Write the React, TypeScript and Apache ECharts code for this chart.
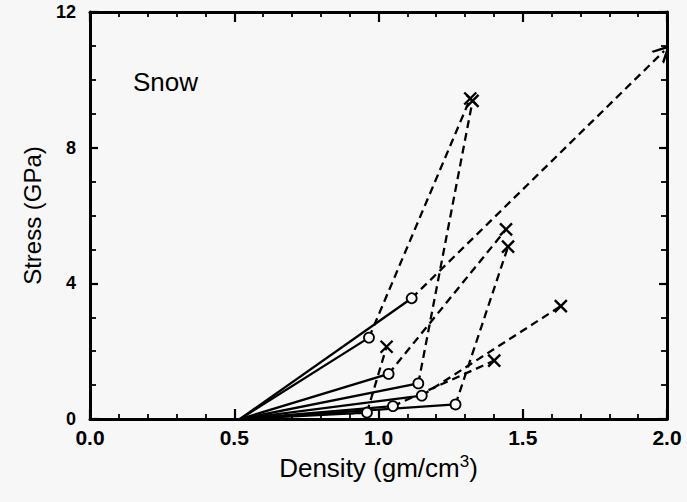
import React, { useEffect, useRef } from "react";
import * as echarts from "echarts";

// Initial (unshocked) state of the snow
const origin: [number, number] = [0.52, 0];
// Measured shocked states ("o")
const shockDensity = [0.967, 1.115, 1.035, 1.138, 1.15, 1.05, 1.267, 0.96];
const shockStress = [2.4, 3.56, 1.33, 1.05, 0.69, 0.38, 0.43, 0.19];
// Computed states ("x"), paired with the shocked states above; index 1 is off scale (arrow)
const calcDensity = [1.318, 1.99, 1.442, 1.326, 1.632, 1.401, 1.449, 1.028];
const calcStress = [9.45, 10.85, 5.59, 9.38, 3.33, 1.72, 5.08, 2.13];
const offScaleIndex = 1;
// faint low-stress dashed trace near the baseline
const lowDensity = [0.68, 0.95];
const lowStress = [0.1, 0.17];

const xMin = 0, xMax = 2, xStep = 0.5;
const yMin = 0, yMax = 12, yStep = 4;

const FONT = "Liberation Sans, Arial, sans-serif";
const INK = "#000";
const BG = "#f7f7f7";

export default function App() {
  const ref = useRef<HTMLDivElement>(null);
  useEffect(() => {
    if (!ref.current) return;
    const chart = echarts.init(ref.current, null, { renderer: "svg" });
    const series: any[] = [];
    shockDensity.forEach((d, i) => {
      series.push({
        type: "line",
        data: [origin, [d, shockStress[i]]],
        showSymbol: false,
        symbol: "none",
        lineStyle: { color: INK, width: 2.3 },
        z: 2,
      });
      if (i !== offScaleIndex) {
        series.push({
          type: "line",
          data: [[d, shockStress[i]], [calcDensity[i], calcStress[i]]],
          showSymbol: false,
          symbol: "none",
          lineStyle: { color: INK, width: 2.3, type: [8, 5] },
          z: 2,
        });
      }
    });
    series.push({
      type: "line",
      data: lowDensity.map((d, i) => [d, lowStress[i]]),
      showSymbol: false,
      symbol: "none",
      lineStyle: { color: INK, width: 1.6, type: [5, 4] },
      z: 2,
    });
    series.push({
      type: "lines",
      coordinateSystem: "cartesian2d",
      data: [
        {
          coords: [
            [shockDensity[offScaleIndex], shockStress[offScaleIndex]],
            [calcDensity[offScaleIndex], calcStress[offScaleIndex]],
          ],
        },
      ],
      symbol: ["none", "path://M5,0 L10,12 L8.5,12 L5,3.8 L1.5,12 L0,12 Z"],
      symbolSize: [14, 18],
      lineStyle: { color: INK, width: 2.3, type: [8, 5], opacity: 1 },
      z: 2,
    });
    series.push({
      type: "scatter",
      data: shockDensity.map((d, i) => [d, shockStress[i]]),
      symbol: "circle",
      symbolSize: 10,
      itemStyle: { color: BG, borderColor: INK, borderWidth: 1.8, opacity: 1 },
      z: 3,
    });
    series.push({
      type: "scatter",
      data: calcDensity
        .map((d, i) => [d, calcStress[i]])
        .filter((_, i) => i !== offScaleIndex),
      symbol: "path://M0,0L10,10M10,0L0,10",
      symbolSize: 12,
      itemStyle: { color: "rgba(0,0,0,0)", borderColor: INK, borderWidth: 2.4, opacity: 1 },
      z: 3,
    });

    const xCommon = {
      type: "value",
      min: xMin,
      max: xMax,
      interval: xStep,
      splitLine: { show: false },
      axisLine: { show: true, onZero: false, lineStyle: { color: INK, width: 3 } },
      axisTick: { show: true, inside: true, length: 10, lineStyle: { color: INK, width: 2.2 } },
      minorTick: { show: true, splitNumber: 5, length: 5, lineStyle: { color: INK, width: 1.8 } },
    };
    const yCommon = {
      type: "value",
      min: yMin,
      max: yMax,
      interval: yStep,
      splitLine: { show: false },
      axisLine: { show: true, onZero: false, lineStyle: { color: INK, width: 3 } },
      axisTick: { show: true, inside: true, length: 8, lineStyle: { color: INK, width: 2.2 } },
      minorTick: { show: true, splitNumber: 4, length: 6, lineStyle: { color: INK, width: 1.8 } },
    };

    chart.setOption({
      animation: false,
      backgroundColor: BG,
      title: {
        text: "Snow",
        left: 128,
        top: 64,
        textStyle: { fontFamily: FONT, fontSize: 26, fontWeight: "normal", color: INK },
      },
      grid: { left: 90, right: 20, top: 12, bottom: 83, containLabel: false },
      xAxis: [
        {
          ...xCommon,
          position: "bottom",
          axisLabel: {
            formatter: (v: number) => v.toFixed(1),
            fontFamily: FONT,
            fontSize: 21,
            fontWeight: "bold",
            color: INK,
            margin: 8,
          },
          name: "{a|Density (gm/cm}{s|3}{a|)}",
          nameLocation: "middle",
          nameGap: 34,
          nameTextStyle: {
            color: INK,
            rich: {
              a: { fontFamily: FONT, fontSize: 26, color: INK, lineHeight: 30 },
              s: { fontFamily: FONT, fontSize: 17, color: INK, verticalAlign: "top", lineHeight: 16 },
            },
          },
        },
        { ...xCommon, position: "top", axisLabel: { show: false } },
      ],
      yAxis: [
        {
          ...yCommon,
          position: "left",
          axisLabel: {
            fontFamily: FONT,
            fontSize: 18,
            fontWeight: "bold",
            color: INK,
            margin: 14,
          },
          name: "Stress (GPa)",
          nameLocation: "middle",
          nameGap: 46,
          nameRotate: 90,
          nameTextStyle: { fontFamily: FONT, fontSize: 24, color: INK },
        },
        { ...yCommon, position: "right", axisLabel: { show: false } },
      ],
      series,
    });
    return () => chart.dispose();
  }, []);
  return (
    <div
      ref={ref}
      style={{ position: "fixed", left: 0, top: 0, width: 687, height: 502, background: BG }}
    />
  );
}
